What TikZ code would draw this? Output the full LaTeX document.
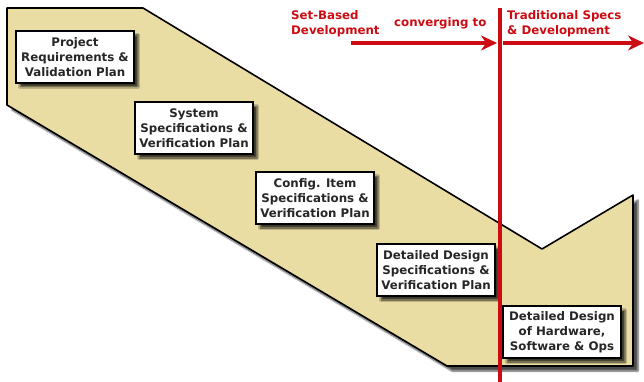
\documentclass[tikz,border=0pt]{standalone}
\usepackage{fontspec}
\setsansfont{DejaVu Sans}
\usetikzlibrary{shadows.blur,arrows.meta}
\definecolor{sand}{RGB}{234,221,164}
\definecolor{signal}{RGB}{204,12,18}

\begin{document}
\begin{tikzpicture}[x=1pt,y=-1pt,
  phase/.style={draw=black, line width=1.6pt, fill=white, align=center,
    font=\sffamily\bfseries\fontsize{11.8}{15}\selectfont, text=black!85,
    minimum width=118pt, minimum height=52pt, inner sep=1pt,
    blur shadow={shadow xshift=4pt, shadow yshift=-4pt, shadow opacity=75, shadow blur steps=5}},
  note/.style={text=signal, align=left, anchor=west, inner sep=0pt,
    font=\sffamily\bfseries\fontsize{11.8}{15}\selectfont},
  flow/.style={signal, line width=4pt, -{Stealth[length=16pt,width=15pt]}}]
\useasboundingbox (0,0) rectangle (644,382);

% the stepped band
\draw [fill=sand, line width=1.6pt, line join=round,
  blur shadow={shadow xshift=5pt, shadow yshift=-5pt, shadow opacity=70, shadow blur steps=6}]
  (7,8) -- (143,8) -- (542,249) -- (633,195) -- (633,366) -- (447,366) -- (7,105) -- cycle;

% phases
\node [phase] (project) at (75,57) {Project\\Requirements \&\\Validation Plan};
\node [phase] (system) at (194,128) {System\\Specifications \&\\Verification Plan};
\node [phase] (config) at (315,198) {Config. Item\\Specifications \&\\Verification Plan};
\node [phase] (design) at (436,270) {Detailed Design\\Specifications \&\\Verification Plan};
\node [phase] (build) at (562,332) {Detailed Design\\of Hardware,\\Software \& Ops};

% dividing line
\coordinate (splittop) at (500,8);
\coordinate (splitbot) at (500,382);
\draw [signal, line width=4.5pt] (splittop) -- (splitbot);

% labels and arrows
\node [note] (setbased) at (291,24) {Set-Based\\Development};
\node [note] (conv) at (394,23) {converging to};
\node [note] (trad) at (507,24) {Traditional Specs\\\& Development};

\coordinate (sbstart) at (351,43);
\coordinate (sbend) at (497,43);
\coordinate (tdstart) at (503,43);
\coordinate (tdend) at (644,43);
\draw [flow] (sbstart) -- (sbend);
\draw [flow] (tdstart) -- (tdend);

\end{tikzpicture}
\end{document}
